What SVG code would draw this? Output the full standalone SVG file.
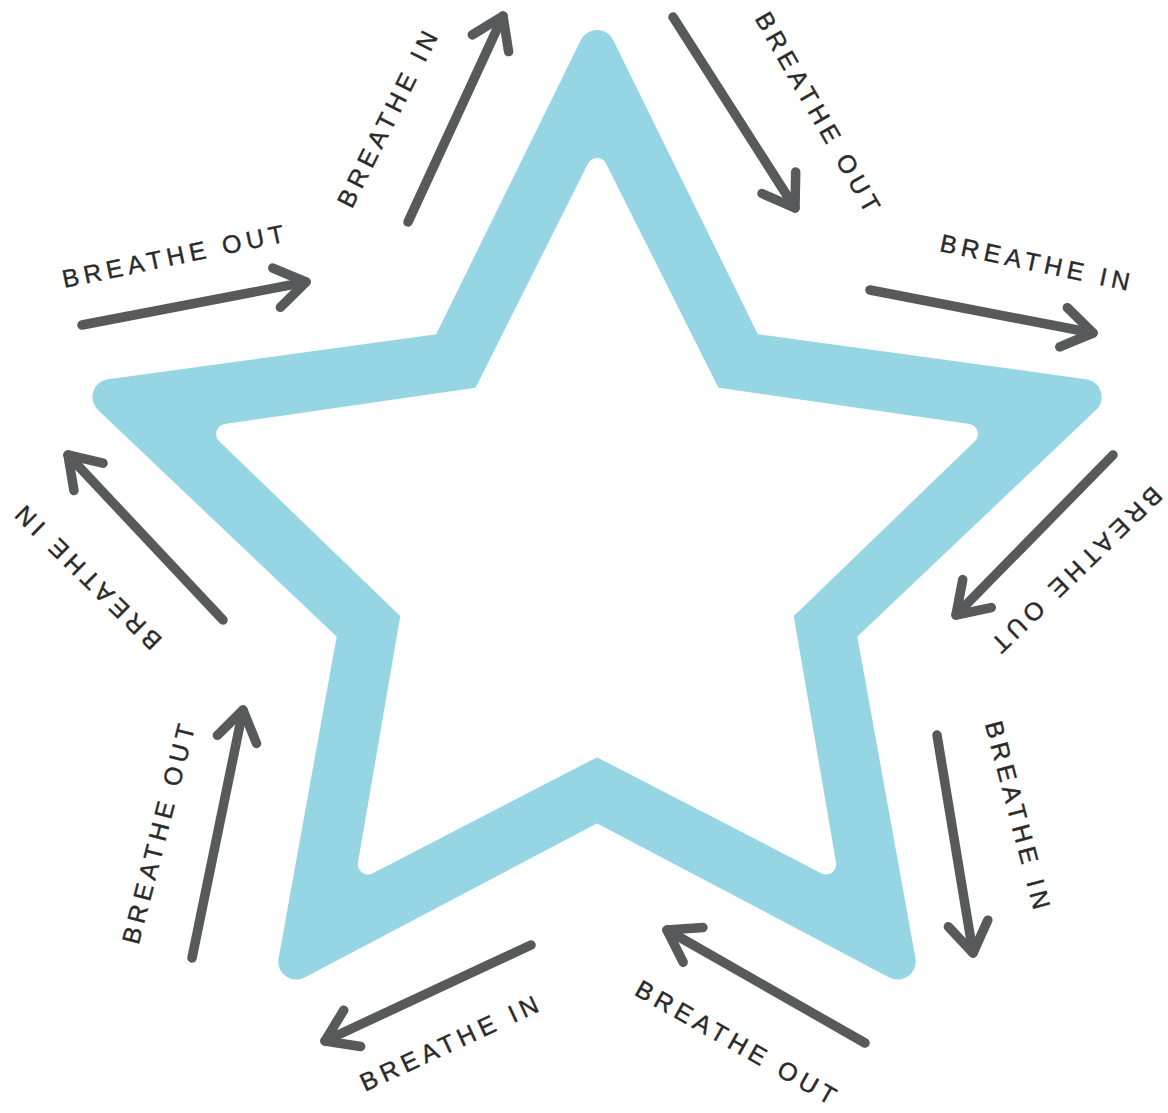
<svg xmlns="http://www.w3.org/2000/svg" width="1168" height="1113" viewBox="0 0 1168 1113">
  <defs>
    <marker id="head" markerUnits="userSpaceOnUse" orient="auto" refX="0" refY="0" markerWidth="80" markerHeight="80" viewBox="-40 -40 80 80" overflow="visible">
      <path d="M -30 -20 L 0 0 L -30 20" fill="none" stroke="#58595b" stroke-width="9.5" stroke-linecap="round" stroke-linejoin="round"/>
    </marker>
    <style>
      .arrow { fill: none; stroke: #58595b; stroke-width: 9.5; stroke-linecap: round; marker-end: url(#head); }
      .lbl { font-family: "Liberation Sans", Arial, sans-serif; font-size: 25px; letter-spacing: 5px; fill: #2a2a2a; stroke: #2a2a2a; stroke-width: 0.4px; text-anchor: middle; }
    </style>
  </defs>
  <rect width="1168" height="1113" fill="#ffffff"/>

  <g id="star">
    <polygon points="597,48 745.9,350.75 1083.6,397 837.9,630.3 897.7,961.5 597,803 296.3,961.5 356.1,630.3 110.4,397 448.1,350.75" fill="#96d6e4" stroke="#96d6e4" stroke-width="36" stroke-linejoin="round"/>
    <polygon points="597,168 711.9,396.9 967.9,434 783,612.6 826.2,864.5 597,746 367.8,864.5 411,612.6 226.1,434 482.1,396.9" fill="#ffffff" stroke="#ffffff" stroke-width="20" stroke-linejoin="round"/>
  </g>

  <g id="connectors">
    <path class="arrow" d="M 408 222 L 503 16"/>
    <path class="arrow" d="M 673 17 L 795 208"/>
    <path class="arrow" d="M 82 325 L 306 282"/>
    <path class="arrow" d="M 870 290 L 1093 333"/>
    <path class="arrow" d="M 1113 455 L 956 615"/>
    <path class="arrow" d="M 223 620 L 68 455"/>
    <path class="arrow" d="M 192 958 L 243 710"/>
    <path class="arrow" d="M 937 735 L 973 953"/>
    <path class="arrow" d="M 531 945 L 325 1041"/>
    <path class="arrow" d="M 865 1043 L 667 930"/>
  </g>

  <g id="label-top-left" transform="translate(387,119) rotate(-63.4)"><text class="lbl" x="2.5" y="9">BREATHE IN</text></g>
  <g id="label-top-right" transform="translate(818,112) rotate(60.3)"><text class="lbl" x="2.5" y="9">BREATHE OUT</text></g>
  <g id="label-left-upper" transform="translate(173,256) rotate(-11.9)"><text class="lbl" x="2.5" y="9">BREATHE OUT</text></g>
  <g id="label-right-upper" transform="translate(1035,262) rotate(11.9)"><text class="lbl" x="2.5" y="9">BREATHE IN</text></g>
  <g id="label-right-mid" transform="translate(1077,570) rotate(136)"><text class="lbl" x="2.5" y="9">BREATHE OUT</text></g>
  <g id="label-left-mid" transform="translate(88,578) rotate(-135.5)"><text class="lbl" x="2.5" y="9">BREATHE IN</text></g>
  <g id="label-left-lower" transform="translate(158,834) rotate(-75.5)"><text class="lbl" x="2.5" y="9">BREATHE OUT</text></g>
  <g id="label-right-lower" transform="translate(1018,815) rotate(75.3)"><text class="lbl" x="2.5" y="9">BREATHE IN</text></g>
  <g id="label-bottom-left" transform="translate(449,1043) rotate(-24.8)"><text class="lbl" x="2.5" y="9">BREATHE IN</text></g>
  <g id="label-bottom-right" transform="translate(736,1042) rotate(29.5)"><text class="lbl" x="2.5" y="9">BREATHE OUT</text></g>
</svg>
